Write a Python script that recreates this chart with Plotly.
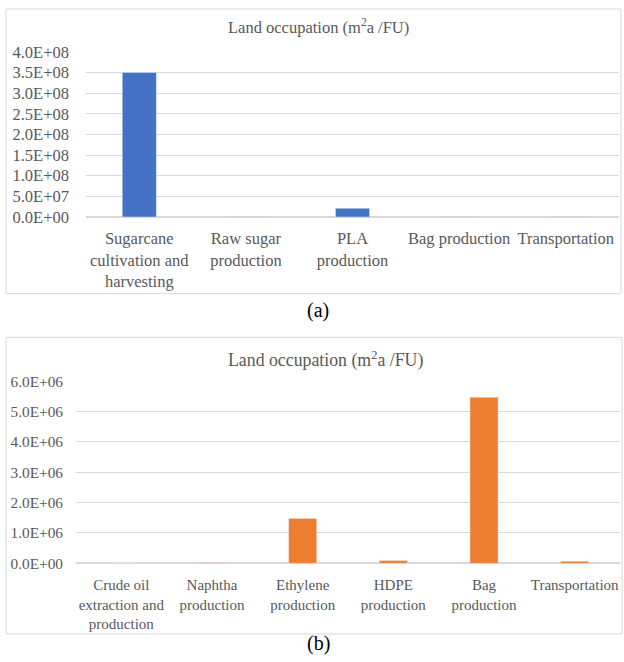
import plotly.graph_objects as go

cats_a = ["Sugarcane<br>cultivation and<br>harvesting", "Raw sugar<br>production", "PLA<br>production",
          "Bag production", "Transportation"]
vals_a = [3.50e8, 8.0e5, 2.1e7, 8.0e5, 8.0e5]
ticks_a = [0, 0.5e8, 1.0e8, 1.5e8, 2.0e8, 2.5e8, 3.0e8, 3.5e8, 4.0e8]
ticklabels_a = ["0.0E+00", "5.0E+07", "1.0E+08", "1.5E+08", "2.0E+08", "2.5E+08", "3.0E+08", "3.5E+08", "4.0E+08"]

cats_b = ["Crude oil<br>extraction and<br>production", "Naphtha<br>production", "Ethylene<br>production",
          "HDPE<br>production", "Bag<br>production", "Transportation"]
vals_b = [5.0e3, 3.0e4, 1.48e6, 9.0e4, 5.47e6, 7.0e4]
ticks_b = [0, 1e6, 2e6, 3e6, 4e6, 5e6, 6e6]
ticklabels_b = ["0.0E+00", "1.0E+06", "2.0E+06", "3.0E+06", "4.0E+06", "5.0E+06", "6.0E+06"]

W, H = 624, 662
FONT = "Times New Roman, Liberation Serif, serif"
GREY = "#595959"
GRID = "#d9d9d9"
VS = 0.976  # vertical scale observed in the photographed page


def py(y):
    yy = (y - 8) / VS
    return min(1.0, max(0.0, 1 - yy / H))


def px(x):
    return min(1.0, max(0.0, x / W))


fig = go.Figure()
fig.add_trace(go.Bar(x=cats_a, y=vals_a, marker=dict(color="#4472C4"), width=0.32,
                     xaxis="x", yaxis="y", showlegend=False))
fig.add_trace(go.Bar(x=cats_b, y=vals_b, marker=dict(color="#ED7D31"), width=0.31,
                     xaxis="x2", yaxis="y2", showlegend=False))

axfont_a = dict(family=FONT, size=16.5, color=GREY)
catfont_b = dict(family=FONT, size=15, color=GREY)
yfont_b = dict(family=FONT, size=15.3, color=GREY)
fig.update_layout(
    width=W, height=H, margin=dict(l=0, r=0, t=0, b=0),
    paper_bgcolor="white", plot_bgcolor="white",
    font=dict(family=FONT, color=GREY),
    xaxis=dict(domain=[px(86), px(619)], anchor="y", showgrid=False, showline=False,
               tickfont=axfont_a, ticks="", ticklabelstandoff=10),
    yaxis=dict(domain=[py(217), py(51)], anchor="x", range=[0, 4e8], tickvals=ticks_a,
               ticktext=ticklabels_a, showgrid=True, gridcolor=GRID, zeroline=True,
               zerolinecolor=GRID, tickfont=axfont_a, ticklabelstandoff=16),
    xaxis2=dict(domain=[px(76), px(620)], anchor="y2", showgrid=False, showline=False,
                tickfont=catfont_b, ticks="", ticklabelstandoff=11),
    yaxis2=dict(domain=[py(565), py(382)], anchor="x2", range=[0, 6e6], tickvals=ticks_b,
                ticktext=ticklabels_b, showgrid=True, gridcolor=GRID, zeroline=True,
                zerolinecolor=GRID, tickfont=yfont_b, ticklabelstandoff=12),
    shapes=[
        dict(type="rect", xref="paper", yref="paper", x0=px(6), x1=px(621), y0=py(294), y1=py(8),
             line=dict(color=GRID, width=1)),
        dict(type="rect", xref="paper", yref="paper", x0=px(6), x1=px(622), y0=py(636), y1=py(338),
             line=dict(color=GRID, width=1)),
    ],
    annotations=[
        dict(text="Land occupation (m<sup>2</sup>a /FU)", xref="paper", yref="paper", x=px(318), y=py(26),
             showarrow=False, font=dict(family=FONT, size=16.5, color=GREY), xanchor="center", yanchor="middle"),
        dict(text="Land occupation (m<sup>2</sup>a /FU)", xref="paper", yref="paper", x=px(325), y=py(360),
             showarrow=False, font=dict(family=FONT, size=17.8, color=GREY), xanchor="center", yanchor="middle"),
        dict(text="(a)", xref="paper", yref="paper", x=px(318), y=py(311), showarrow=False,
             font=dict(family=FONT, size=20, color="black"), xanchor="center", yanchor="middle"),
        dict(text="(b)", xref="paper", yref="paper", x=px(318), y=py(646), showarrow=False,
             font=dict(family=FONT, size=20, color="black"), xanchor="center", yanchor="middle"),
    ],
)

fig.write_html("out.html", config={"displayModeBar": False},
               post_script="document.body.style.margin='0';document.body.style.overflow='hidden';")
